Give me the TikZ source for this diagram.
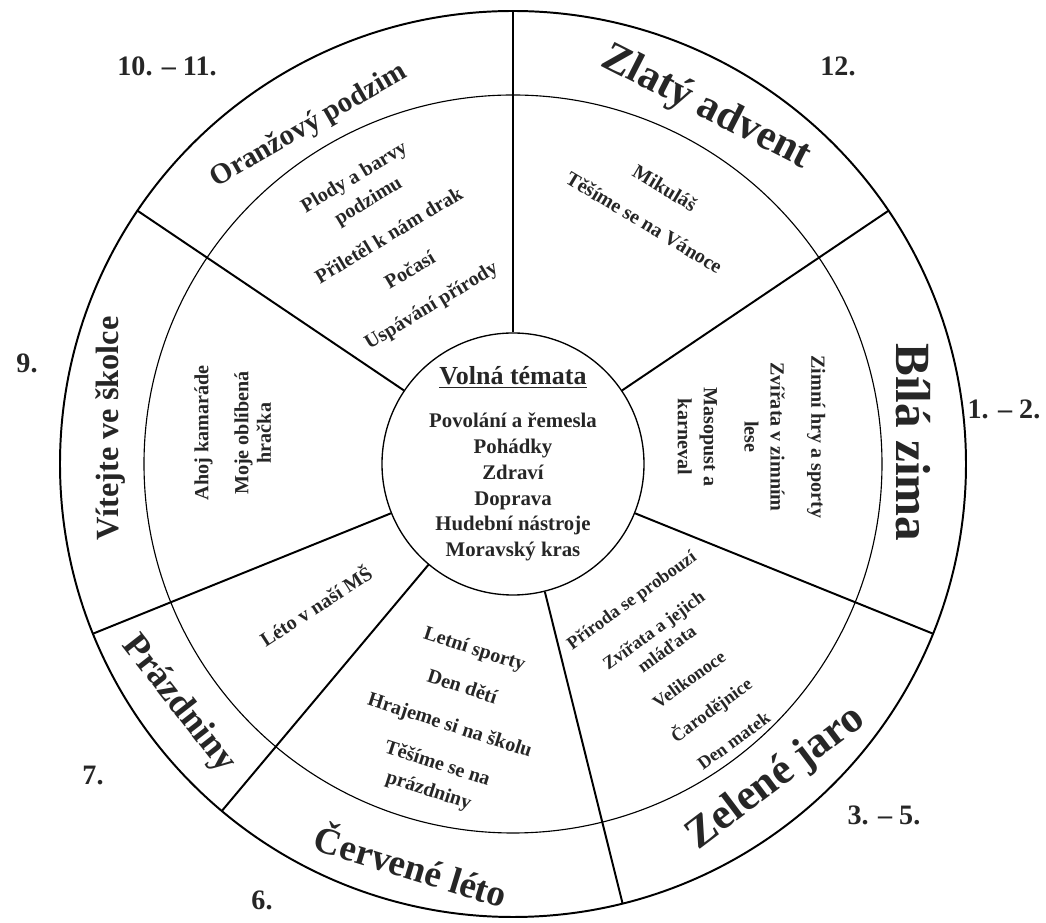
\documentclass[tikz,border=0pt]{standalone}
\usepackage{fontspec}
\setmainfont{Liberation Serif}

\tikzset{
  rim/.style={line width=1.4pt},
  ring/.style={line width=0.8pt},
  spoke/.style={line width=1.4pt},
  season/.style={font=\fontsize{#1}{#1}\selectfont\bfseries, inner sep=0pt},
  topic/.style={font=\fontsize{14.3}{18.5}\selectfont\bfseries, align=center, inner sep=0pt},
  month/.style={font=\fontsize{20}{24}\selectfont\bfseries},
}

\begin{document}
\begin{tikzpicture}[every node/.append style={text=black!85}]
  \useasboundingbox (-12.825,-11.475) rectangle (13.325,11.6);

  % kruhy
  \draw[rim] (0,0) circle (11.325);
  \draw[ring] (0,0) circle (9.225);
  \node[circle, draw, line width=0.95pt, minimum size=6.55cm, inner sep=0pt, align=center,
        font=\fontsize{14.8}{18.3}\selectfont\bfseries] (hub) at (0,0)
    {{\fontsize{18.5}{22}\selectfont\underline{Volná témata}}\\[12.3pt]
     Povolání a řemesla\\ Pohádky\\ Zdraví\\ Doprava\\ Hudební nástroje\\ Moravský kras};

  \foreach \a in {90,34,338,284,230,202,146}
    \draw[spoke] (hub.\a) -- (\a:11.325);

  % období
  \node[season=30, rotate=-27] (advent) at (61.5:10.125) {Zlatý advent};
  \node[season=35, rotate=-90] (zima) at (3.1:10.03) {Bílá zima};
  \node[season=31, rotate=37] (jaro) at (-50.1:10.25) {Zelené jaro};
  \node[season=26.5, rotate=-17] (leto) at (-104.2:10.31) {Červené léto};
  \node[season=26, rotate=-52] (prazdniny) at (215.7:10.29) {Prázdniny};
  \node[season=23, rotate=90] (skolka) at (175:10.11) {Vítejte ve školce};
  \node[season=20.6, rotate=30] (podzim) at (121.1:9.875) {Oranžový podzim};

  % témata
  \node[topic, rotate=-31] (t-advent) at (61.3:7.375)
    {Mikuláš\\[10pt] Těšíme se na Vánoce};
  \node[topic, font=\fontsize{14.3}{19.5}\selectfont\bfseries, rotate=31] (t-podzim) at (118.4:6.3)
    {Plody a barvy\\ podzimu\\[9.5pt] Přiletěl k nám drak\\[9.5pt] Počasí\\[9.5pt] Uspávání přírody};
  \node[topic, rotate=-90] (t-zima) at (6.5:6.0)
    {Zimní hry a sporty\\[10.5pt] Zvířata v zimním\\ lese\\[10.5pt] Masopust a\\ karneval};
  \node[topic, font=\fontsize{13}{16}\selectfont\bfseries, rotate=36] (t-jaro) at (-50.6:6.67)
    {Příroda se probouzí\\[11pt] Zvířata a jejich\\ mláďata\\[11pt] Velikonoce\\[11pt] Čarodějnice\\[11pt] Den matek};
  \node[topic, font=\fontsize{14.3}{20}\selectfont\bfseries, rotate=-18] (t-leto) at (-103.5:6.6)
    {Letní sporty\\[8.5pt] Den dětí\\[8.5pt] Hrajeme si na školu\\[8.5pt] Těšíme se na\\ prázdniny};
  \node[topic, rotate=33] (t-ms) at (215.5:6.075) {Léto v naší MŠ};
  \node[topic, font=\fontsize{14.3}{16}\selectfont\bfseries, rotate=90] (t-skolka) at (173.7:7.05)
    {Ahoj kamaráde\\[12.4pt] Moje oblíbená\\ hračka};

  % měsíce
  \node[month] (m10) at (-8.65,9.95) {10. – 11.};
  \node[month] (m12) at (8.125,9.95) {12.};
  \node[month] (m9) at (-12.15,2.525) {9.};
  \node[month] (m1) at (12.275,1.375) {1. – 2.};
  \node[month] (m3) at (9.275,-8.775) {3. – 5.};
  \node[month] (m7) at (-10.5,-7.775) {7.};
  \node[month] (m6) at (-6.275,-10.9) {6.};
\end{tikzpicture}
\end{document}
